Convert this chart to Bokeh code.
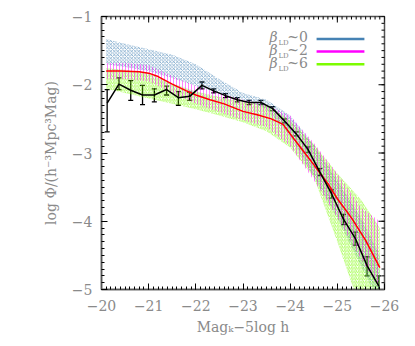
import numpy as np
from bokeh.plotting import figure
from bokeh.models import Range1d, FixedTicker, ColumnDataSource, Whisker, TeeHead, Label
from bokeh.embed import file_html
from bokeh.resources import INLINE

# ---------------- data ----------------
obs_mag = [-20.12, -20.37, -20.62, -20.87, -21.12, -21.38, -21.63, -21.87, -22.13, -22.38,
           -22.63, -22.88, -23.13, -23.38, -23.63, -23.88, -24.13, -24.38, -24.63, -24.88,
           -25.13, -25.38, -25.63, -25.88]
obs_phi = [-2.27, -1.99, -2.08, -2.15, -2.15, -2.07, -2.19, -2.17, -2.01, -2.09,
           -2.16, -2.22, -2.26, -2.26, -2.35, -2.53, -2.72, -2.95, -3.28, -3.60,
           -3.97, -4.25, -4.65, -4.95]
obs_hi = [-2.07, -1.90, -1.94, -2.01, -2.06, -2.02, -2.10, -2.11, -1.96, -2.06,
          -2.13, -2.19, -2.23, -2.23, -2.32, -2.50, -2.69, -2.91, -3.23, -3.54,
          -3.90, -4.16, -4.52, -4.80]
obs_lo = [-2.69, -2.07, -2.23, -2.29, -2.25, -2.15, -2.30, -2.23, -2.06, -2.12,
          -2.19, -2.25, -2.29, -2.29, -2.38, -2.56, -2.75, -2.99, -3.33, -3.66,
          -4.05, -4.35, -4.80, -5.15]

band_mag = [-20.1, -20.5, -21.0, -21.5, -22.0, -22.5, -23.0, -23.5, -24.0, -24.5, -25.0, -25.5, -25.9]
b0_hi = [-1.33, -1.40, -1.48, -1.56, -1.70, -1.92, -2.12, -2.22, -2.45, -2.88, -3.40, -3.95, -4.50]
b0_lo = [-1.70, -1.74, -1.80, -1.90, -2.02, -2.12, -2.22, -2.35, -2.75, -3.35, -3.95, -4.65, -5.20]
b2_hi = [-1.68, -1.68, -1.71, -1.87, -2.02, -2.12, -2.22, -2.30, -2.45, -2.85, -3.30, -3.80, -4.00]
b2_lo = [-1.92, -1.92, -1.95, -2.12, -2.28, -2.40, -2.52, -2.62, -2.90, -3.40, -3.95, -4.55, -5.00]
b6_hi = [-1.76, -1.78, -1.84, -1.98, -2.10, -2.18, -2.25, -2.30, -2.52, -2.87, -3.30, -3.68, -4.10]
b6_lo = [-2.06, -2.12, -2.20, -2.28, -2.36, -2.45, -2.55, -2.68, -2.92, -3.35, -4.30, -5.30, -5.60]

med_mag = [-20.1, -20.4, -20.8, -21.0, -21.2, -21.5, -21.8, -22.0, -22.3, -22.6, -23.0, -23.3,
           -23.6, -23.85, -24.0, -24.2, -24.5, -24.8, -25.0, -25.3, -25.6, -25.9]
med_phi = [-1.80, -1.80, -1.81, -1.83, -1.88, -1.99, -2.09, -2.15, -2.22, -2.28, -2.39, -2.44,
           -2.50, -2.58, -2.72, -2.90, -3.17, -3.45, -3.67, -3.95, -4.28, -4.68]

x_ticks = [-20, -21, -22, -23, -24, -25, -26]
x_tick_labels = ["\u221220", "\u221221", "\u221222", "\u221223", "\u221224", "\u221225", "\u221226"]
y_ticks = [-5, -4, -3, -2, -1]
y_tick_labels = ["\u22125", "\u22124", "\u22123", "\u22122", "\u22121"]

legend_values = ["0", "2", "6"]
legend_colors = ["#4682b4", "#ff00ff", "#7cfc00"]

# ---------------- figure ----------------
FONT = "DejaVu Serif"
GRAY = "#8a8a8a"
xr = Range1d(-20, -26)
yr = Range1d(-5, -1)

p = figure(width=405, height=335, x_range=xr, y_range=yr, output_backend="svg",
           toolbar_location=None, frame_width=283, frame_height=273,
           min_border_left=101, min_border_top=16, min_border_right=21, min_border_bottom=46)
p.xgrid.visible = False
p.ygrid.visible = False
p.background_fill_color = "white"
p.border_fill_color = "white"
p.outline_line_color = "#555555"
p.outline_line_width = 1.5

# bands (hatched, transparent)
p.varea(x=band_mag, y1=b0_lo, y2=b0_hi, fill_alpha=0, hatch_pattern="x",
        hatch_color=legend_colors[0], hatch_scale=3.5, hatch_weight=0.8, hatch_alpha=0.75)
p.varea(x=band_mag, y1=b6_lo, y2=b6_hi, fill_alpha=0, hatch_pattern="/",
        hatch_color=legend_colors[2], hatch_scale=3.5, hatch_weight=0.8, hatch_alpha=0.8)
p.varea(x=band_mag, y1=b2_lo, y2=b2_hi, fill_alpha=0, hatch_pattern="|",
        hatch_color=legend_colors[1], hatch_scale=3, hatch_weight=0.8, hatch_alpha=0.6)

# median model
p.line(med_mag, med_phi, line_color="red", line_width=1.5)

# observations
src = ColumnDataSource(dict(x=obs_mag, y=obs_phi, hi=obs_hi, lo=obs_lo))
p.line("x", "y", source=src, line_color="black", line_width=1.5)
p.add_layout(Whisker(base="x", upper="hi", lower="lo", source=src, line_color="black",
                     line_width=1.3,
                     upper_head=TeeHead(size=5, line_color="black", line_width=1.3),
                     lower_head=TeeHead(size=5, line_color="black", line_width=1.3)))

# axes
xminor = [round(v, 2) for v in np.arange(-26, -19.99, 0.1)]
yminor = [round(v, 2) for v in np.arange(-5, -0.99, 0.1)]

def style(ax):
    ax.major_tick_in = 6
    ax.major_tick_out = 0
    ax.minor_tick_in = 3
    ax.minor_tick_out = 0
    ax.major_tick_line_color = "black"
    ax.minor_tick_line_color = "black"
    ax.axis_line_color = "#555555"
    ax.axis_line_width = 1.5
    ax.major_label_text_font = FONT
    ax.major_label_text_color = GRAY
    ax.major_label_text_font_size = "14px"
    ax.axis_label_text_font = FONT
    ax.axis_label_text_color = GRAY
    ax.axis_label_text_font_size = "14px"
    ax.axis_label_text_font_style = "normal"

xb = p.xaxis[0]
xb.ticker = FixedTicker(ticks=x_ticks, minor_ticks=xminor)
xb.major_label_overrides = {float(t): l for t, l in zip(x_ticks, x_tick_labels)}
xb.axis_label = "Mag\u2096\u22125log h"
style(xb)
xb.major_label_standoff = 10
xb.axis_label_standoff = 5

yl = p.yaxis[0]
yl.ticker = FixedTicker(ticks=y_ticks, minor_ticks=yminor)
yl.major_label_overrides = {float(t): l for t, l in zip(y_ticks, y_tick_labels)}
yl.axis_label = "log \u03a6/(h\u207b\u00b3Mpc\u00b3Mag)"
yl.major_label_orientation = "horizontal"
style(yl)
yl.major_label_standoff = 9
yl.axis_label_standoff = 10

# ticks on the top and right edges (markers clipped to the frame)
p.scatter(x=x_ticks, y=[yr.end] * len(x_ticks), marker="dash", angle=np.pi / 2, size=12,
          line_color="black", line_width=1)
p.scatter(x=xminor, y=[yr.end] * len(xminor), marker="dash", angle=np.pi / 2, size=6,
          line_color="black", line_width=1)
p.scatter(x=[xr.end] * len(y_ticks), y=y_ticks, marker="dash", size=12,
          line_color="black", line_width=1)
p.scatter(x=[xr.end] * len(yminor), y=yminor, marker="dash", size=6,
          line_color="black", line_width=1)

# legend (positions as fractions of the frame)
def fx(f):
    return xr.start + f * (xr.end - xr.start)

def fy(f):
    return yr.end - f * (yr.end - yr.start)

rows = [0.082, 0.128, 0.175]
for val, col, r in zip(legend_values, legend_colors, rows):
    p.line([fx(0.760), fx(0.929)], [fy(r), fy(r)], line_color=col, line_width=2.5)
    p.add_layout(Label(x=fx(0.594), y=fy(r - 0.006), text="\u03b2", text_font=FONT,
                       text_font_size="14px", text_color=GRAY, text_baseline="middle",
                       text_align="left", text_font_style="italic"))
    p.add_layout(Label(x=fx(0.625), y=fy(r + 0.016), text="LD", text_font=FONT,
                       text_font_size="7px", text_color=GRAY, text_baseline="middle",
                       text_align="left"))
    p.add_layout(Label(x=fx(0.656), y=fy(r - 0.006), text="~" + val, text_font=FONT,
                       text_font_size="14px", text_color=GRAY, text_baseline="middle",
                       text_align="left"))

open("out.html", "w").write(file_html(p, INLINE))
